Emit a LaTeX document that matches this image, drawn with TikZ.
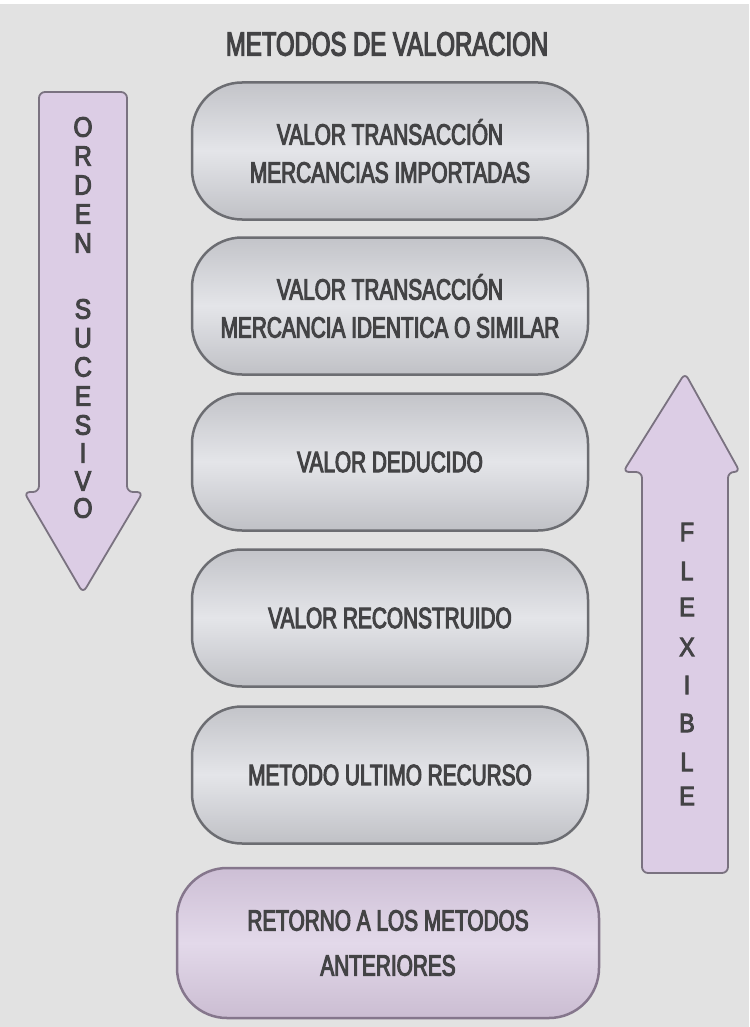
\documentclass[tikz,border=0pt]{standalone}
\usepackage{fontspec}
\setmainfont{Liberation Sans}
\newfontfamily\narrowfont{Liberation Sans}[FakeStretch=0.71,FakeBold=3.5]
\newfontfamily\letterfont{Liberation Sans}[FakeStretch=0.88,FakeBold=3.5]
\definecolor{bg}{HTML}{E2E2E2}
\definecolor{gtop}{HTML}{C3C4C9}
\definecolor{gmid}{HTML}{E4E5E9}
\definecolor{gbot}{HTML}{C0C1C6}
\definecolor{boxline}{HTML}{6C6D72}
\definecolor{ptop}{HTML}{CDBFD5}
\definecolor{pmid}{HTML}{E3D9EA}
\definecolor{pbot}{HTML}{CBBDD2}
\definecolor{pline}{HTML}{85768C}
\definecolor{afill}{HTML}{DCCDE5}
\definecolor{aline}{HTML}{7A7280}
\definecolor{txt}{HTML}{434345}
\tikzset{
  graybox/.style={rectangle, rounded corners=50pt, minimum width=396pt, minimum height=137pt,
    draw=boxline, line width=2.5pt, top color=gtop, bottom color=gbot, middle color=gmid,
    align=center, text=txt, inner sep=0pt,
    font=\narrowfont\fontsize{29.3}{38}\selectfont},
  purplebox/.style={rectangle, rounded corners=50pt, minimum width=422pt, minimum height=150pt,
    draw=pline, line width=2.5pt, top color=ptop, bottom color=pbot, middle color=pmid,
    align=center, text=txt, inner sep=0pt,
    font=\narrowfont\fontsize{29.3}{45}\selectfont},
  arrowshape/.style={fill=afill, draw=aline, line width=1.8pt, rounded corners=6pt},
  lletter/.style={text=txt, inner sep=0pt, font=\letterfont\fontsize{28}{28}\selectfont},
  rletter/.style={text=txt, inner sep=0pt, font=\letterfont\fontsize{26.5}{26.5}\selectfont},
  titletext/.style={text=txt, inner sep=0pt, font=\narrowfont\fontsize{33.7}{34}\selectfont}
}
\begin{document}
\begin{tikzpicture}[x=1pt,y=-1pt]
\fill[bg] (0,0) rectangle (749,1027);
\useasboundingbox (0,0) rectangle (749,1027);
\fill[white] (0,0) rectangle (749,4);

\node[titletext] (title) at (387,44) {METODOS DE VALORACION};

% left arrow
\draw[arrowshape] (39,92) -- (127,92) -- (127,492) -- (143,492) -- (83,593) -- (24,492) -- (39,492) -- cycle;
% right arrow
\draw[arrowshape] (685,373) -- (740,472) -- (728,472) -- (728,873) -- (642,873) -- (642,472) -- (623,472) -- cycle;

% boxes
\node[graybox] (b1) at (390,151) {VALOR TRANSACCIÓN\\MERCANCIAS IMPORTADAS};
\node[graybox] (b2) at (390,306) {VALOR TRANSACCIÓN\\MERCANCIA IDENTICA O SIMILAR};
\node[graybox] (b3) at (390,462) {VALOR DEDUCIDO};
\node[graybox] (b4) at (390,618) {VALOR RECONSTRUIDO};
\node[graybox] (b5) at (390,775) {METODO ULTIMO RECURSO};
\node[purplebox] (b6) at (388,943) {RETORNO A LOS METODOS\\ANTERIORES};

% left arrow letters
\node[lletter] (l1) at (83,127) {O};
\node[lletter] (l2) at (83,156) {R};
\node[lletter] (l3) at (83,185) {D};
\node[lletter] (l4) at (83,214) {E};
\node[lletter] (l5) at (83,243) {N};
\node[lletter] (l6) at (83,309) {S};
\node[lletter] (l7) at (83,338) {U};
\node[lletter] (l8) at (83,367) {C};
\node[lletter] (l9) at (83,396) {E};
\node[lletter] (l10) at (83,425) {S};
\node[lletter] (l11) at (83,453) {I};
\node[lletter] (l12) at (83,481) {V};
\node[lletter] (l13) at (83,508) {O};

% right arrow letters
\node[rletter] (r1) at (687,532) {F};
\node[rletter] (r2) at (687,571) {L};
\node[rletter] (r3) at (687,607) {E};
\node[rletter] (r4) at (687,647) {X};
\node[rletter] (r5) at (687,685) {I};
\node[rletter] (r6) at (687,723) {B};
\node[rletter] (r7) at (687,762) {L};
\node[rletter] (r8) at (687,796) {E};
\end{tikzpicture}
\end{document}
